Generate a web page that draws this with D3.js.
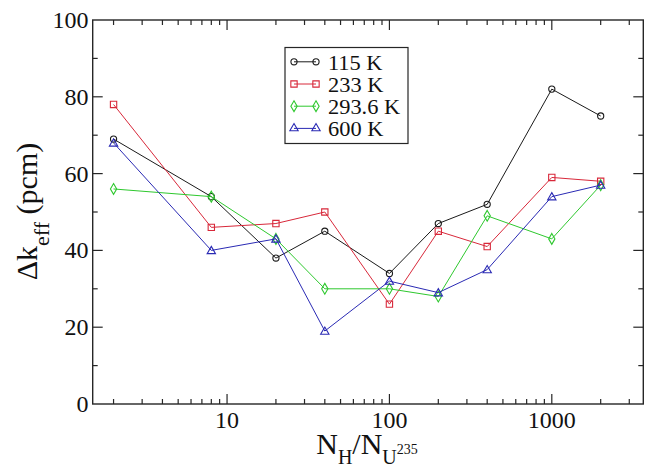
<!DOCTYPE html>
<html>
<head>
<meta charset="utf-8">
<script src="https://cdn.jsdelivr.net/npm/d3@7"></script>
</head>
<body style="margin:0">
<svg id="chart" width="653" height="467"></svg>
<script>
// Hydrogen-to-U235 ratios sampled in the study
const ratios = [2, 8, 20, 40, 100, 200, 400, 1000, 2000];

// Δk_eff (pcm) for each temperature
const k115  = [69, 54, 38, 45, 34, 47, 52, 82, 75];
const k233  = [78, 46, 47, 50, 26, 45, 41, 59, 58];
const k2936 = [56, 54, 43, 30, 30, 28, 49, 43, 57];
const k600  = [68, 40, 43, 19, 32, 29, 35, 54, 57];

const seriesNames = ["115 K", "233 K", "293.6 K", "600 K"];
const seriesColors = ["#1a1a1a", "#d8283a", "#2ec82e", "#2a2ab4"];
const seriesSymbols = ["circle", "square", "diamond", "triangle"];

const xMajorTicks = [10, 100, 1000];
const yMajorTicks = [0, 20, 40, 60, 80, 100];
const yMinorTicks = [10, 30, 50, 70, 90];

const series = [k115, k233, k2936, k600].map((vals, i) => ({
  name: seriesNames[i],
  color: seriesColors[i],
  symbol: seriesSymbols[i],
  values: vals.map((v, j) => ({ x: ratios[j], y: v }))
}));

const SERIF = '"Times New Roman", "Liberation Serif", serif';
function serifText(sel) {
  return sel.attr("font-family", "Times New Roman, Liberation Serif, serif")
    .style("font-family", SERIF);
}

const svg = d3.select("#chart");
const plotL = 92.7, plotR = 643.3, plotT = 20, plotB = 404;

const x = d3.scaleLog().domain([1.488, 3660]).range([plotL, plotR]);
const y = d3.scaleLinear().domain([0, 100]).range([plotB, plotT]);

const frame = "#262626";

// minor ticks on the log axis: 2..9 within each decade in view
const xMinorTicks = [];
[1, 10, 100, 1000].forEach(d => {
  for (let m = 2; m <= 9; m++) {
    const v = d * m;
    if (v > x.domain()[0] && v < x.domain()[1]) xMinorTicks.push(v);
  }
});

const g = svg.append("g");

// inward ticks on all four sides
function xTicks(vals, len) {
  [[plotB, -len], [plotT, len]].forEach(([y0, dl]) => {
    g.selectAll(null).data(vals).enter().append("line")
      .attr("x1", d => x(d)).attr("x2", d => x(d))
      .attr("y1", y0).attr("y2", y0 + dl)
      .attr("stroke", frame).attr("stroke-width", 1.2);
  });
}
function yTicks(vals, len) {
  [[plotL, len], [plotR, -len]].forEach(([x0, dl]) => {
    g.selectAll(null).data(vals).enter().append("line")
      .attr("x1", x0).attr("x2", x0 + dl)
      .attr("y1", d => y(d)).attr("y2", d => y(d))
      .attr("stroke", frame).attr("stroke-width", 1.2);
  });
}
xTicks(xMajorTicks, 10);
xTicks(xMinorTicks, 5);
yTicks(yMajorTicks.filter(d => d > 0 && d < 100), 10);
yTicks(yMinorTicks, 5);

// frame
g.append("rect")
  .attr("x", plotL).attr("y", plotT)
  .attr("width", plotR - plotL).attr("height", plotB - plotT)
  .attr("fill", "none").attr("stroke", frame).attr("stroke-width", 1.4);

// tick labels
g.selectAll(null).data(xMajorTicks).enter().append("text")
  .attr("x", d => x(d)).attr("y", 428)
  .attr("text-anchor", "middle").attr("font-size", 24).attr("fill", "#111")
  .call(serifText)
  .text(d => d);
g.selectAll(null).data(yMajorTicks).enter().append("text")
  .attr("x", 88.5).attr("y", d => y(d) + 8)
  .attr("text-anchor", "end").attr("font-size", 24).attr("fill", "#111")
  .call(serifText)
  .text(d => d);

// axis titles
const xt = svg.append("text")
  .attr("x", 367).attr("y", 454)
  .attr("text-anchor", "middle").attr("font-size", 30).attr("fill", "#111")
  .call(serifText);
xt.append("tspan").text("N");
xt.append("tspan").attr("font-size", 20).attr("dy", 10).text("H");
xt.append("tspan").attr("dy", -10).text("/N");
xt.append("tspan").attr("font-size", 20).attr("dy", 10).text("U");
xt.append("tspan").attr("font-size", 14).attr("dy", -10).text("235");

const yt = svg.append("text")
  .attr("transform", "translate(37,211.5) rotate(-90)")
  .attr("text-anchor", "middle").attr("font-size", 30).attr("fill", "#111")
  .call(serifText);
yt.append("tspan").text("Δk");
yt.append("tspan").attr("font-size", 22).attr("dy", 12).text("eff");
yt.append("tspan").attr("dy", -12).text(" (pcm)");

// symbol shapes
const symbolType = {
  circle: d3.symbolCircle,
  square: d3.symbolSquare,
  diamond: d3.symbolDiamond,
  triangle: d3.symbolTriangle
};
const symbolSize = { circle: 30, square: 40, diamond: 34, triangle: 30 };

function drawSymbol(sel, s) {
  sel.attr("d", d3.symbol().type(symbolType[s.symbol]).size(symbolSize[s.symbol])())
    .attr("fill", "none").attr("stroke", s.color).attr("stroke-width", 1.1);
}

const line = d3.line().x(d => x(d.x)).y(d => y(d.y));

series.forEach(s => {
  g.append("path").datum(s.values)
    .attr("d", line)
    .attr("fill", "none").attr("stroke", s.color).attr("stroke-width", 1);
  g.selectAll(null).data(s.values).enter().append("path")
    .attr("transform", d => `translate(${x(d.x)},${y(d.y) + (s.symbol === "triangle" ? 0.8 : 0)})`)
    .call(sel => drawSymbol(sel, s));
});

// legend
const legend = svg.append("g");
legend.append("rect")
  .attr("x", 285).attr("y", 47.5).attr("width", 123).attr("height", 96)
  .attr("fill", "#fff").attr("stroke", frame).attr("stroke-width", 1.2);
series.forEach((s, i) => {
  const cy = 61.8 + i * 22.2;
  legend.append("line")
    .attr("x1", 294).attr("x2", 316).attr("y1", cy).attr("y2", cy)
    .attr("stroke", s.color).attr("stroke-width", 1);
  [294, 316].forEach(px => {
    legend.append("path")
      .attr("transform", `translate(${px},${cy})`)
      .call(sel => drawSymbol(sel, s));
  });
  legend.append("text")
    .attr("transform", `translate(328,${cy + 8}) scale(1.12,1)`)
    .attr("font-size", 20).attr("fill", "#111")
    .call(serifText)
    .text(s.name);
});
</script>
</body>
</html>
